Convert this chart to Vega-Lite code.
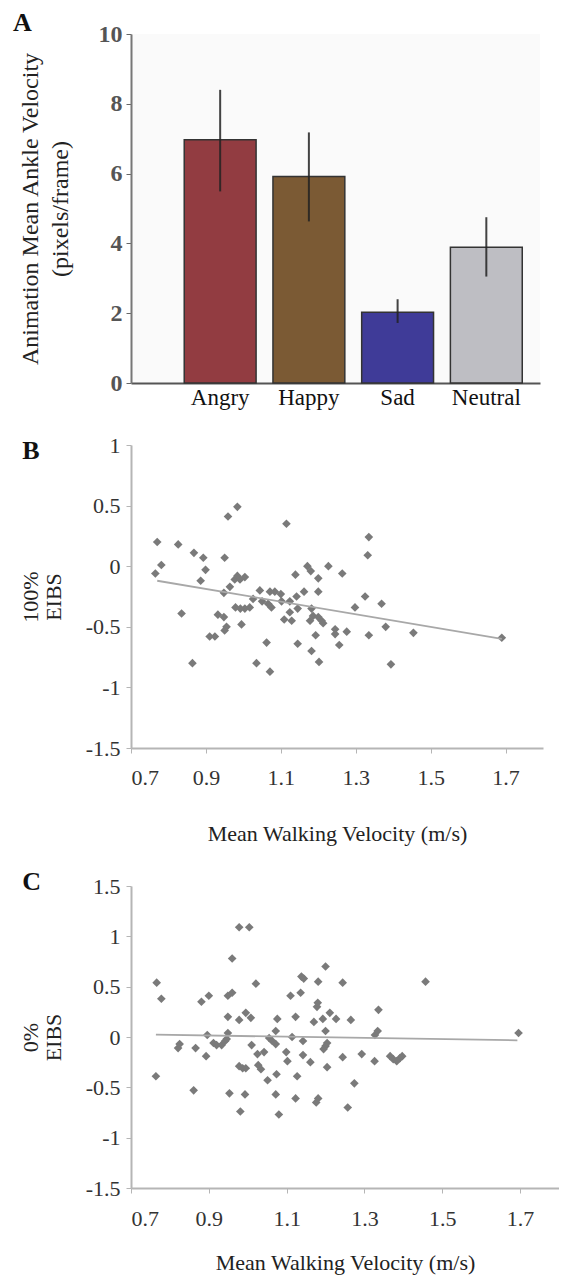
{
  "$schema": "https://vega.github.io/schema/vega-lite/v6.json",
  "background": "white",
  "padding": {"left": 13, "top": 10, "right": 0, "bottom": 4},
  "spacing": 25,
  "config": {
    "font": "Liberation Serif",
    "view": {"stroke": null},
    "axis": {"grid": false, "titleFontWeight": "normal", "labelFont": "Liberation Serif", "titleFont": "Liberation Serif"},
    "title": {"font": "Liberation Serif"}
  },
  "datasets": {
    "bars": [
      {"emotion": "Angry", "mean": 6.97, "lo": 5.49, "hi": 8.40},
      {"emotion": "Happy", "mean": 5.92, "lo": 4.63, "hi": 7.18},
      {"emotion": "Sad", "mean": 2.03, "lo": 1.72, "hi": 2.40},
      {"emotion": "Neutral", "mean": 3.89, "lo": 3.05, "hi": 4.75}
    ],
    "eibs100": [
      {"v": 0.770, "e": 0.20}, {"v": 0.765, "e": -0.06}, {"v": 0.781, "e": 0.01}, {"v": 0.826, "e": 0.18},
      {"v": 0.835, "e": -0.39}, {"v": 0.868, "e": 0.11}, {"v": 0.886, "e": -0.12}, {"v": 0.893, "e": 0.07},
      {"v": 0.899, "e": -0.03}, {"v": 0.864, "e": -0.80}, {"v": 0.910, "e": -0.58}, {"v": 0.924, "e": -0.58},
      {"v": 0.932, "e": -0.40}, {"v": 0.948, "e": -0.42}, {"v": 0.950, "e": 0.07}, {"v": 0.948, "e": -0.22},
      {"v": 0.964, "e": -0.17}, {"v": 0.950, "e": -0.53}, {"v": 0.955, "e": -0.50}, {"v": 0.959, "e": 0.41},
      {"v": 0.984, "e": 0.49}, {"v": 0.977, "e": -0.11}, {"v": 0.984, "e": -0.08}, {"v": 0.991, "e": -0.11},
      {"v": 1.004, "e": -0.09}, {"v": 0.979, "e": -0.34}, {"v": 0.995, "e": -0.48}, {"v": 1.004, "e": -0.35},
      {"v": 1.017, "e": -0.34}, {"v": 0.992, "e": -0.35}, {"v": 1.026, "e": -0.27}, {"v": 1.035, "e": -0.80},
      {"v": 1.044, "e": -0.20}, {"v": 1.050, "e": -0.29}, {"v": 1.062, "e": -0.63}, {"v": 1.071, "e": -0.87},
      {"v": 1.071, "e": -0.21}, {"v": 1.075, "e": -0.34}, {"v": 1.066, "e": -0.31}, {"v": 1.084, "e": -0.21},
      {"v": 1.100, "e": -0.23}, {"v": 1.102, "e": -0.29}, {"v": 1.109, "e": -0.44}, {"v": 1.115, "e": 0.35},
      {"v": 1.124, "e": -0.38}, {"v": 1.129, "e": -0.45}, {"v": 1.124, "e": -0.29}, {"v": 1.139, "e": -0.07},
      {"v": 1.142, "e": -0.25}, {"v": 1.145, "e": -0.35}, {"v": 1.145, "e": -0.64}, {"v": 1.162, "e": -0.21},
      {"v": 1.171, "e": 0.00}, {"v": 1.180, "e": -0.04}, {"v": 1.182, "e": -0.35}, {"v": 1.178, "e": -0.45},
      {"v": 1.182, "e": -0.70}, {"v": 1.186, "e": -0.41}, {"v": 1.193, "e": -0.57}, {"v": 1.200, "e": -0.10},
      {"v": 1.200, "e": -0.21}, {"v": 1.200, "e": -0.42}, {"v": 1.202, "e": -0.79}, {"v": 1.209, "e": -0.45},
      {"v": 1.213, "e": -0.47}, {"v": 1.227, "e": 0.00}, {"v": 1.245, "e": -0.52}, {"v": 1.245, "e": -0.56},
      {"v": 1.256, "e": -0.65}, {"v": 1.264, "e": -0.06}, {"v": 1.276, "e": -0.54}, {"v": 1.298, "e": -0.34},
      {"v": 1.325, "e": -0.25}, {"v": 1.332, "e": 0.09}, {"v": 1.335, "e": 0.24}, {"v": 1.335, "e": -0.57},
      {"v": 1.369, "e": -0.31}, {"v": 1.380, "e": -0.50}, {"v": 1.394, "e": -0.81}, {"v": 1.454, "e": -0.55},
      {"v": 1.690, "e": -0.59}
    ],
    "fit100": [
      {"v": 0.770, "e": -0.12}, {"v": 1.690, "e": -0.60}
    ],
    "eibs0": [
      {"v": 0.766, "e": 0.54}, {"v": 0.778, "e": 0.38}, {"v": 0.764, "e": -0.39}, {"v": 0.821, "e": -0.11},
      {"v": 0.825, "e": -0.07}, {"v": 0.861, "e": -0.53}, {"v": 0.866, "e": -0.11}, {"v": 0.881, "e": 0.35},
      {"v": 0.900, "e": 0.41}, {"v": 0.893, "e": -0.19}, {"v": 0.896, "e": 0.02}, {"v": 0.912, "e": -0.06},
      {"v": 0.920, "e": -0.08}, {"v": 0.933, "e": -0.08}, {"v": 0.942, "e": -0.04}, {"v": 0.949, "e": 0.04},
      {"v": 0.946, "e": -0.02}, {"v": 0.949, "e": 0.20}, {"v": 0.949, "e": 0.41}, {"v": 0.960, "e": 0.44},
      {"v": 0.953, "e": -0.56}, {"v": 0.960, "e": 0.78}, {"v": 0.978, "e": 1.09}, {"v": 1.004, "e": 1.09},
      {"v": 0.978, "e": 0.17}, {"v": 0.978, "e": -0.29}, {"v": 0.987, "e": -0.31}, {"v": 0.995, "e": -0.31},
      {"v": 0.981, "e": -0.74}, {"v": 0.993, "e": -0.57}, {"v": 0.995, "e": 0.24}, {"v": 1.008, "e": 0.19},
      {"v": 1.010, "e": -0.08}, {"v": 1.021, "e": 0.53}, {"v": 1.025, "e": -0.17}, {"v": 1.027, "e": -0.28},
      {"v": 1.034, "e": -0.32}, {"v": 1.042, "e": -0.15}, {"v": 1.051, "e": -0.43}, {"v": 1.055, "e": -0.01},
      {"v": 1.063, "e": -0.04}, {"v": 1.072, "e": -0.07}, {"v": 1.072, "e": 0.06}, {"v": 1.076, "e": 0.18},
      {"v": 1.074, "e": -0.37}, {"v": 1.072, "e": -0.57}, {"v": 1.080, "e": -0.77}, {"v": 1.099, "e": -0.15},
      {"v": 1.102, "e": -0.24}, {"v": 1.110, "e": 0.41}, {"v": 1.114, "e": 0.00}, {"v": 1.123, "e": 0.20},
      {"v": 1.127, "e": -0.39}, {"v": 1.123, "e": -0.61}, {"v": 1.136, "e": 0.44}, {"v": 1.138, "e": 0.60},
      {"v": 1.144, "e": 0.58}, {"v": 1.142, "e": -0.04}, {"v": 1.142, "e": -0.18}, {"v": 1.161, "e": -0.25},
      {"v": 1.170, "e": 0.15}, {"v": 1.178, "e": 0.30}, {"v": 1.180, "e": 0.34}, {"v": 1.181, "e": 0.55},
      {"v": 1.176, "e": -0.65}, {"v": 1.181, "e": -0.61}, {"v": 1.193, "e": 0.18}, {"v": 1.200, "e": 0.70},
      {"v": 1.200, "e": 0.06}, {"v": 1.204, "e": -0.06}, {"v": 1.200, "e": -0.09}, {"v": 1.195, "e": -0.12},
      {"v": 1.204, "e": -0.30}, {"v": 1.211, "e": 0.24}, {"v": 1.227, "e": 0.18}, {"v": 1.244, "e": 0.54},
      {"v": 1.244, "e": -0.20}, {"v": 1.257, "e": -0.70}, {"v": 1.265, "e": 0.17}, {"v": 1.274, "e": -0.46},
      {"v": 1.293, "e": -0.17}, {"v": 1.326, "e": -0.24}, {"v": 1.327, "e": 0.02}, {"v": 1.334, "e": 0.06},
      {"v": 1.336, "e": 0.27}, {"v": 1.366, "e": -0.19}, {"v": 1.374, "e": -0.22}, {"v": 1.383, "e": -0.24},
      {"v": 1.391, "e": -0.21}, {"v": 1.397, "e": -0.19}, {"v": 1.457, "e": 0.55}, {"v": 1.696, "e": 0.04}
    ],
    "fit0": [
      {"v": 0.764, "e": 0.023}, {"v": 1.693, "e": -0.033}
    ]
  },
  "vconcat": [
    {
      "title": {"text": "A", "anchor": "start", "frame": "bounds", "fontSize": 26, "fontWeight": "bold", "font": "Liberation Serif", "color": "#111", "offset": -14, "dx": -5},
      "width": 409,
      "height": 349,
      "view": {"fill": "#fafafa", "stroke": null},
      "data": {"name": "bars"},
      "layer": [
        {
          "mark": {"type": "bar", "stroke": "#333333", "strokeWidth": 1.5},
          "encoding": {
            "x": {
              "field": "emotion", "type": "nominal",
              "scale": {"domain": ["Angry", "Happy", "Sad", "Neutral"], "paddingInner": 0.19, "paddingOuter": 0.4, "align": 0.75, "round": false},
              "axis": {"title": null, "labelAngle": 0, "labelFontSize": 23, "labelColor": "#111", "ticks": false, "labelPadding": 3, "domainColor": "#555", "domainWidth": 2}
            },
            "y": {
              "field": "mean", "type": "quantitative",
              "scale": {"domain": [0, 10], "nice": false},
              "axis": {"values": [0, 2, 4, 6, 8, 10], "title": ["Animation Mean Ankle Velocity", "(pixels/frame)"], "titleFontSize": 24, "titleColor": "#222", "titleLineHeight": 30, "titlePadding": 26, "labelFontSize": 24, "labelFontWeight": "bold", "labelColor": "#555", "labelPadding": 4, "tickSize": 5, "tickColor": "#666", "domainColor": "#777", "domainWidth": 2}
            },
            "color": {
              "field": "emotion", "type": "nominal",
              "scale": {"domain": ["Angry", "Happy", "Sad", "Neutral"], "range": ["#923c41", "#7b5a34", "#3f3b98", "#bebec3"]},
              "legend": null
            }
          }
        },
        {
          "mark": {"type": "rule", "color": "#222", "strokeWidth": 2, "opacity": 0.85},
          "encoding": {
            "x": {"field": "emotion", "type": "nominal"},
            "y": {"field": "lo", "type": "quantitative"},
            "y2": {"field": "hi"}
          }
        }
      ]
    },
    {
      "title": {"text": "B", "anchor": "start", "frame": "bounds", "fontSize": 26, "fontWeight": "bold", "font": "Liberation Serif", "color": "#111", "offset": -30, "dx": 3},
      "width": 412,
      "height": 303,
      "layer": [
        {
          "data": {"name": "eibs100"},
          "mark": {"type": "point", "shape": "diamond", "filled": true, "size": 75, "color": "#7a7a7a", "opacity": 1},
          "encoding": {
            "x": {
              "field": "v", "type": "quantitative",
              "scale": {"domain": [0.7, 1.8], "nice": false, "zero": false},
              "axis": {"values": [0.7, 0.9, 1.1, 1.3, 1.5, 1.7], "format": ".1f", "title": "Mean Walking Velocity (m/s)", "titleFontSize": 22, "titleColor": "#222", "titlePadding": 35, "labelFontSize": 22, "labelColor": "#333", "labelPadding": 14, "tickSize": 5, "tickColor": "#b5b5b5", "domainColor": "#b5b5b5", "domainWidth": 2}
            },
            "y": {
              "field": "e", "type": "quantitative",
              "scale": {"domain": [-1.5, 1], "nice": false, "zero": false},
              "axis": {"values": [-1.5, -1, -0.5, 0, 0.5, 1], "format": "~g", "labelExpr": "replace(datum.label, '\u2212', '-')", "title": ["100%", "EIBS"], "titleFontSize": 22, "titleColor": "#222", "titleLineHeight": 23, "titlePadding": 20, "labelFontSize": 22, "labelColor": "#333", "labelPadding": 6, "tickSize": 5, "tickColor": "#b5b5b5", "domainColor": "#b5b5b5", "domainWidth": 2}
            }
          }
        },
        {
          "data": {"name": "fit100"},
          "mark": {"type": "line", "color": "#a8a8a8", "strokeWidth": 1.8},
          "encoding": {
            "x": {"field": "v", "type": "quantitative"},
            "y": {"field": "e", "type": "quantitative"}
          }
        }
      ]
    },
    {
      "title": {"text": "C", "anchor": "start", "frame": "bounds", "fontSize": 26, "fontWeight": "bold", "font": "Liberation Serif", "color": "#111", "offset": -20, "dx": 3},
      "width": 428,
      "height": 302,
      "layer": [
        {
          "data": {"name": "eibs0"},
          "mark": {"type": "point", "shape": "diamond", "filled": true, "size": 75, "color": "#7a7a7a", "opacity": 1},
          "encoding": {
            "x": {
              "field": "v", "type": "quantitative",
              "scale": {"domain": [0.7, 1.8], "nice": false, "zero": false},
              "axis": {"values": [0.7, 0.9, 1.1, 1.3, 1.5, 1.7], "format": ".1f", "title": "Mean Walking Velocity (m/s)", "titleFontSize": 22, "titleColor": "#222", "titlePadding": 23, "labelFontSize": 22, "labelColor": "#333", "labelPadding": 15, "tickSize": 5, "tickColor": "#b5b5b5", "domainColor": "#b5b5b5", "domainWidth": 2}
            },
            "y": {
              "field": "e", "type": "quantitative",
              "scale": {"domain": [-1.5, 1.5], "nice": false, "zero": false},
              "axis": {"values": [-1.5, -1, -0.5, 0, 0.5, 1, 1.5], "format": "~g", "labelExpr": "replace(datum.label, '\u2212', '-')", "title": ["0%", "EIBS"], "titleFontSize": 22, "titleColor": "#222", "titleLineHeight": 23, "titlePadding": 20, "labelFontSize": 22, "labelColor": "#333", "labelPadding": 6, "tickSize": 5, "tickColor": "#b5b5b5", "domainColor": "#b5b5b5", "domainWidth": 2}
            }
          }
        },
        {
          "data": {"name": "fit0"},
          "mark": {"type": "line", "color": "#a8a8a8", "strokeWidth": 1.8},
          "encoding": {
            "x": {"field": "v", "type": "quantitative"},
            "y": {"field": "e", "type": "quantitative"}
          }
        }
      ]
    }
  ]
}
